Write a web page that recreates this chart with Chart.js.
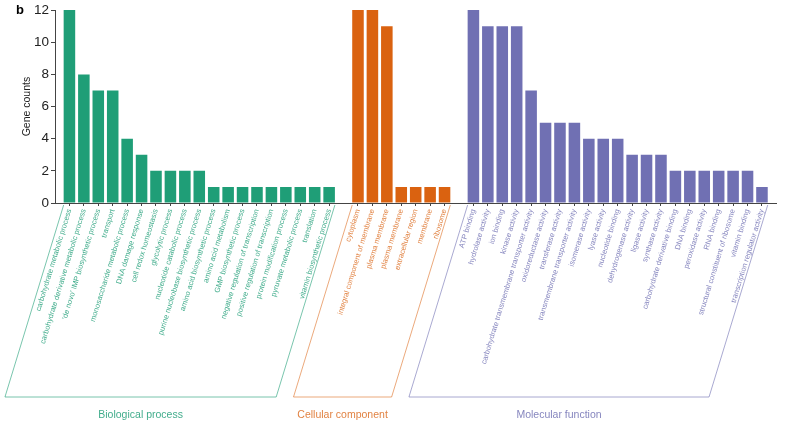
<!DOCTYPE html>
<html>
<head>
<meta charset="utf-8">
<script src="https://cdn.jsdelivr.net/npm/chart.js@4"></script>
<style>
  html, body { margin: 0; padding: 0; background: #fff; }
  #wrap { width: 787px; height: 426px; }
</style>
</head>
<body>
<div id="wrap"><canvas id="goChart" width="787" height="426"></canvas></div>
<script>
const bpLabels = ["carbohydrate metabolic process", "carbohydrate derivative metabolic process",
  "'de novo' IMP biosynthetic process", "transport", "monosaccharide metabolic process",
  "DNA damage response", "cell redox homeostasis", "glycolytic process", "nucleotide catabolic process",
  "purine nucleobase biosynthetic process", "amino acid biosynthetic process", "amino acid metabolism",
  "GMP biosynthetic process", "negative regulation of transcription", "positive regulation of transcription",
  "protein modification process", "pyruvate metabolic process", "translation", "vitamin biosynthetic process"];
const bpCounts = [12, 8, 7, 7, 4, 3, 2, 2, 2, 2, 1, 1, 1, 1, 1, 1, 1, 1, 1];

const ccLabels = ["cytoplasm", "integral component of membrane", "plasma membrane", "plasma membrane",
  "extracellular region", "membrane", "ribosome"];
const ccCounts = [12, 12, 11, 1, 1, 1, 1];

const mfLabels = ["ATP binding", "hydrolase activity", "ion binding", "kinase activity",
  "carbohydrate transmembrane transporter activity", "oxidoreductase activity", "transferase activity",
  "transmembrane transporter activity", "isomerase activity", "lyase activity", "nucleotide binding",
  "dehydrogenase activity", "ligase activity", "synthase activity", "carbohydrate derivative binding",
  "DNA binding", "peroxidase activity", "RNA binding", "structural constituent of ribosome",
  "vitamin binding", "transcription regulator activity"];
const mfCounts = [12, 11, 11, 11, 7, 5, 5, 5, 4, 4, 4, 3, 3, 3, 2, 2, 2, 2, 2, 2, 1];

const groupNames = ["Biological process", "Cellular component", "Molecular function"];
const groupColors = ["#1f9e77", "#da6210", "#7070b3"];
const groupText = ["rgba(31,158,119,0.85)", "rgba(218,98,16,0.8)", "rgba(112,112,179,0.85)"];
const groupLines = ["rgba(31,158,119,0.6)", "rgba(218,98,16,0.55)", "rgba(112,112,179,0.6)"];

// blank slots at the ends and between groups
const labels = [""];
const values = [null];
const groupOf = [-1];
const groups = [[bpLabels, bpCounts], [ccLabels, ccCounts], [mfLabels, mfCounts]];
const ranges = [];
groups.forEach(([lab, cnt], g) => {
  const start = labels.length;
  lab.forEach((l, i) => {
    labels.push(l);
    values.push(cnt[i]);
    groupOf.push(g);
  });
  ranges.push([start, labels.length - 1]);
  labels.push("");
  values.push(null);
  groupOf.push(-1);
});

const FONT = "'Liberation Sans', Arial, sans-serif";
const ROT = 73;

// brackets, group names and panel letter
const decor = {
  id: "decor",
  afterDraw(chart) {
    const ctx = chart.ctx;
    const x = chart.scales.x;
    const bars = chart.getDatasetMeta(0).data;
    const top = chart.chartArea.bottom + 2;
    const bottom = 397;
    const dx = (bottom - top) / Math.tan(ROT * Math.PI / 180);
    ctx.save();
    ranges.forEach(([a, b], g) => {
      const l = x.getPixelForValue(a) - bars[a].width / 2;
      const r = x.getPixelForValue(b) + bars[b].width / 2;
      ctx.strokeStyle = groupLines[g];
      ctx.lineWidth = 1;
      ctx.beginPath();
      ctx.moveTo(l, top);
      ctx.lineTo(l - dx, bottom);
      ctx.lineTo(r - dx, bottom);
      ctx.lineTo(r, top);
      ctx.stroke();
      ctx.fillStyle = groupText[g];
      ctx.font = "10.5px " + FONT;
      ctx.textAlign = "center";
      ctx.textBaseline = "middle";
      ctx.fillText(groupNames[g], (l + r) / 2 - dx, 415);
    });
    ctx.fillStyle = "#000";
    ctx.font = "bold 13px " + FONT;
    ctx.textAlign = "left";
    ctx.textBaseline = "middle";
    ctx.fillText("b", 16, 10);
    ctx.restore();
  }
};

new Chart(document.getElementById("goChart"), {
  type: "bar",
  data: {
    labels: labels,
    datasets: [{
      data: values,
      backgroundColor: groupOf.map(g => g < 0 ? "transparent" : groupColors[g]),
      borderWidth: 0,
      barPercentage: 0.8,
      categoryPercentage: 1
    }]
  },
  options: {
    responsive: false,
    animation: false,
    layout: { padding: { top: 10, left: 0, right: 0, bottom: 0 } },
    plugins: { legend: { display: false }, tooltip: { enabled: false } },
    scales: {
      x: {
        offset: false,
        grid: {
          offset: false,
          drawOnChartArea: false,
          tickLength: 3,
          tickColor: c => groupOf[c.index] < 0 ? "transparent" : "#444"
        },
        border: { color: "#444", width: 1 },
        ticks: {
          autoSkip: false,
          minRotation: ROT,
          maxRotation: ROT,
          padding: 2,
          font: { family: FONT, size: 7.5 },
          color: c => groupOf[c.index] < 0 ? "transparent" : groupText[groupOf[c.index]]
        },
        afterFit(scale) { scale.height = 223; }
      },
      y: {
        min: 0,
        max: 12,
        grid: { drawOnChartArea: false, tickLength: 4, tickColor: "#444" },
        border: { color: "#444", width: 1 },
        ticks: {
          stepSize: 2,
          padding: 2,
          color: "#222",
          font: { family: FONT, size: 13.5 }
        },
        title: {
          display: true,
          text: "Gene counts",
          color: "#222",
          font: { family: FONT, size: 10.5 },
          padding: { top: 21, bottom: 0 }
        },
        afterFit(scale) { scale.width = 55; }
      }
    }
  },
  plugins: [decor]
});
</script>
</body>
</html>
